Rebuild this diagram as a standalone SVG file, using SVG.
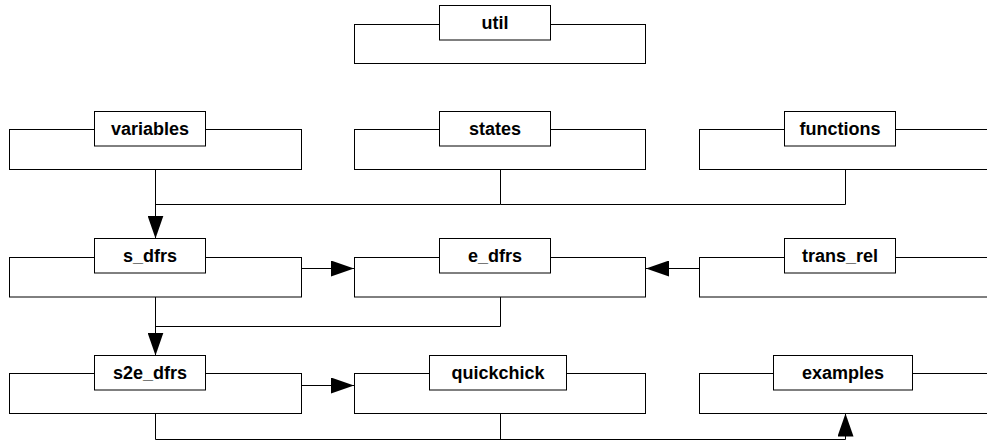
<svg xmlns="http://www.w3.org/2000/svg" width="987" height="444" viewBox="0 0 987 444">
<style>
.box{fill:#fff;stroke:#000;stroke-width:1}
.lbl{fill:#fff;stroke:#000;stroke-width:1}
.t{font-family:"Liberation Sans",Arial,sans-serif;font-weight:bold;font-size:18px;fill:#000;text-anchor:middle}
.c{fill:none;stroke:#000;stroke-width:1}
</style>
<defs>
<marker id="ah" viewBox="0 0 23 16" refX="23" refY="8" markerWidth="23" markerHeight="16" orient="auto" markerUnits="userSpaceOnUse">
<path d="M0,0 L23,8 L0,16 z" fill="#000"/>
</marker>
</defs>
<rect width="987" height="444" fill="#fff"/>
<g id="connectors">
<path class="c" d="M155.5 169.5 V238.5" marker-end="url(#ah)"/>
<path class="c" d="M500.5 169.5 V204.5 H155.5"/>
<path class="c" d="M845.5 169.5 V204.5 H500.5"/>
<path class="c" d="M301.5 268.5 H354" marker-end="url(#ah)"/>
<path class="c" d="M699.5 268.5 H646" marker-end="url(#ah)"/>
<path class="c" d="M155.5 297 V355.5" marker-end="url(#ah)"/>
<path class="c" d="M500.5 297 V326.5 H155.5"/>
<path class="c" d="M301.5 385.5 H354" marker-end="url(#ah)"/>
<path class="c" d="M155.5 413.5 V439.5 H845.5 V413.5" marker-end="url(#ah)"/>
<path class="c" d="M500.5 413.5 V439.5"/>
</g>
<g id="util">
<rect class="box" x="354.5" y="24.5" width="291" height="39"/>
<rect class="lbl" x="439.5" y="5.5" width="111" height="34.5"/>
<text class="t" x="495" y="29">util</text>
</g>
<g id="variables">
<rect class="box" x="9.5" y="129.5" width="292" height="40"/>
<rect class="lbl" x="94.5" y="111.5" width="111" height="34.5"/>
<text class="t" x="150" y="135">variables</text>
</g>
<g id="states">
<rect class="box" x="354.5" y="129.5" width="291" height="40"/>
<rect class="lbl" x="439.5" y="111.5" width="111" height="34.5"/>
<text class="t" x="495" y="135">states</text>
</g>
<g id="functions">
<rect class="box" x="699.5" y="129.5" width="292" height="40"/>
<rect class="lbl" x="784.5" y="111.5" width="111" height="34.5"/>
<text class="t" x="840" y="135">functions</text>
</g>
<g id="s_dfrs">
<rect class="box" x="9.5" y="257.5" width="292" height="39.5"/>
<rect class="lbl" x="94.5" y="238.5" width="111" height="34.5"/>
<text class="t" x="150" y="262">s_dfrs</text>
</g>
<g id="e_dfrs">
<rect class="box" x="354.5" y="257.5" width="291" height="39.5"/>
<rect class="lbl" x="439.5" y="238.5" width="111" height="34.5"/>
<text class="t" x="495" y="262">e_dfrs</text>
</g>
<g id="trans_rel">
<rect class="box" x="699.5" y="257.5" width="292" height="39.5"/>
<rect class="lbl" x="784.5" y="238.5" width="111" height="34.5"/>
<text class="t" x="840" y="262">trans_rel</text>
</g>
<g id="s2e_dfrs">
<rect class="box" x="9.5" y="373.5" width="292" height="40"/>
<rect class="lbl" x="94.5" y="355.5" width="111" height="34.5"/>
<text class="t" x="150" y="379">s2e_dfrs</text>
</g>
<g id="quickchick">
<rect class="box" x="354.5" y="373.5" width="291" height="40"/>
<rect class="lbl" x="429.5" y="355.5" width="137" height="34.5"/>
<text class="t" x="498" y="379">quickchick</text>
</g>
<g id="examples">
<rect class="box" x="699.5" y="373.5" width="292" height="40"/>
<rect class="lbl" x="773.5" y="355.5" width="139" height="34.5"/>
<text class="t" x="843" y="379">examples</text>
</g>
</svg>
